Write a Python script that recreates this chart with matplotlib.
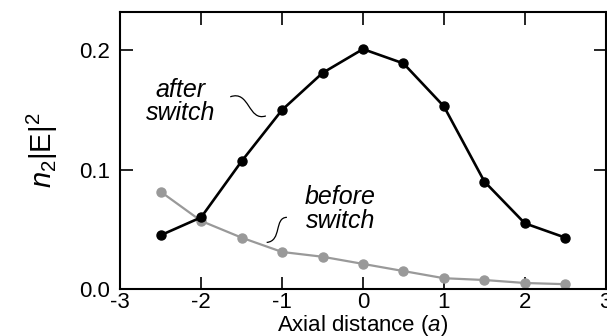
import matplotlib
matplotlib.use("Agg")
import matplotlib.pyplot as plt
from matplotlib.path import Path
from matplotlib.patches import PathPatch

plt.rcParams["font.family"] = ["Liberation Sans", "DejaVu Sans"]
plt.rcParams["mathtext.fontset"] = "custom"
plt.rcParams["mathtext.rm"] = "Liberation Sans"
plt.rcParams["mathtext.it"] = "Liberation Sans:italic"

# axial positions
x_pos = [-2.5, -2.0, -1.5, -1.0, -0.5, 0.0, 0.5, 1.0, 1.5, 2.0, 2.5]
after_switch = [0.045, 0.060, 0.107, 0.150, 0.181, 0.201, 0.189, 0.153, 0.090, 0.055, 0.043]
before_switch = [0.0815, 0.057, 0.043, 0.031, 0.027, 0.021, 0.015, 0.009, 0.0075, 0.005, 0.004]

x_ticks = [-3, -2, -1, 0, 1, 2, 3]
y_ticks = [0.0, 0.1, 0.2]
y_tick_labels = ["0.0", "0.1", "0.2"]

fig = plt.figure(figsize=(6.07, 3.36), dpi=100)
ax = fig.add_axes([0.198, 0.14, 0.80, 0.824])

ax.plot(x_pos, before_switch, color="#999999", lw=1.6, marker="o", ms=6.5, zorder=2)
ax.plot(x_pos, after_switch, color="black", lw=1.9, marker="o", ms=6.5, zorder=3)

ax.set_xlim(-3, 3)
ax.set_ylim(0, 0.232)
ax.set_xticks(x_ticks)
ax.set_xticklabels([str(t) for t in x_ticks])
ax.set_yticks(y_ticks)
ax.set_yticklabels(y_tick_labels)
ax.tick_params(direction="in", length=9, width=1.2, top=True, right=True,
               labelsize=16, pad=2)
ax.tick_params(axis="y", pad=7)
for s in ax.spines.values():
    s.set_linewidth(1.5)

ax.set_xlabel("Axial distance ($\\it{a}$)", fontsize=16, labelpad=0)
ax.set_ylabel("$\\it{n}_2$|E|$^2$", fontsize=21, labelpad=14)

ax.text(-2.25, 0.157, "after\nswitch", fontsize=18, style="italic",
        ha="center", va="center", linespacing=0.95)
ax.text(-0.28, 0.067, "before\nswitch", fontsize=18, style="italic",
        ha="center", va="center", linespacing=0.95)

# squiggly leader lines
lead_after = Path([(-1.64, 0.161), (-1.40, 0.167), (-1.42, 0.140), (-1.20, 0.145)],
                  [Path.MOVETO, Path.CURVE4, Path.CURVE4, Path.CURVE4])
lead_before = Path([(-1.19, 0.039), (-1.00, 0.040), (-1.10, 0.060), (-0.94, 0.060)],
                   [Path.MOVETO, Path.CURVE4, Path.CURVE4, Path.CURVE4])
for p in (lead_after, lead_before):
    ax.add_patch(PathPatch(p, facecolor="none", edgecolor="black", lw=0.9))

fig.savefig("out.png", dpi=100)
